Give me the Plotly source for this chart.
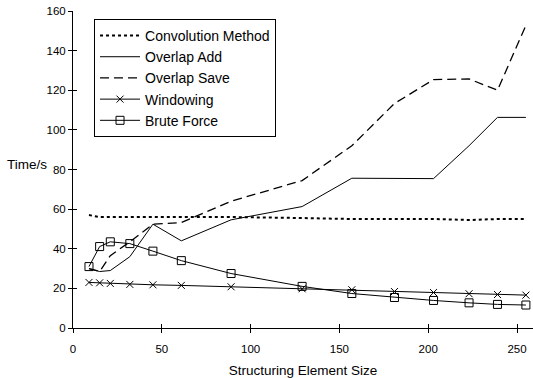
import plotly.graph_objects as go

sizes = [9, 15, 21, 32, 45, 61, 89, 129, 157, 181, 203, 223, 239, 255]
convolution = [57, 56, 56, 56, 56, 56, 56, 55.5, 55, 55, 55, 54.5, 55, 55]
overlap_add = [30, 28.5, 29, 36, 52.4, 44, 54.6, 61.3, 75.6, 75.4, 75.4, 92, 106.3, 106.3]
overlap_save = [30, 28.5, 36.5, 43.5, 52.4, 53.2, 64, 74.4, 92, 113.3, 125.4, 125.7, 120, 152.8]
windowing = [23, 22.8, 22.5, 22, 21.8, 21.5, 20.8, 19.8, 19.3, 18.4, 17.9, 17.3, 16.9, 16.6]
brute_force = [31, 41.1, 43.5, 42.6, 38.8, 34, 27.5, 21, 17.4, 15.4, 13.9, 12.7, 11.9, 11.6]

x_ticks = [0, 50, 100, 150, 200, 250]
y_ticks = [0, 20, 40, 60, 80, 100, 120, 140, 160]

FONT = "Liberation Sans, Arial, sans-serif"

fig = go.Figure()
fig.add_trace(go.Scatter(x=sizes, y=convolution, name="Convolution Method", mode="lines",
                         line=dict(color="black", width=2, dash="dot")))
fig.add_trace(go.Scatter(x=sizes, y=overlap_add, name="Overlap Add", mode="lines",
                         line=dict(color="black", width=1)))
fig.add_trace(go.Scatter(x=sizes, y=overlap_save, name="Overlap Save", mode="lines",
                         line=dict(color="black", width=1.3, dash="9px,5px")))
fig.add_trace(go.Scatter(x=sizes, y=windowing, name="Windowing", mode="lines+markers",
                         line=dict(color="black", width=1),
                         marker=dict(symbol="x-thin-open", size=7, color="black",
                                     line=dict(color="black", width=1))))
fig.add_trace(go.Scatter(x=sizes, y=brute_force, name="Brute Force", mode="lines+markers",
                         line=dict(color="black", width=1),
                         marker=dict(symbol="square-open", size=8, color="black",
                                     line=dict(color="black", width=1))))

# invisible trace to carry the overlay axes (inside ticks -> crossing ticks)
fig.add_trace(go.Scatter(x=[0], y=[0], xaxis="x2", yaxis="y2", mode="markers",
                         marker=dict(opacity=0), showlegend=False, hoverinfo="skip"))

axis_common = dict(showgrid=False, zeroline=False, showline=True, linecolor="black",
                   linewidth=1, tickcolor="black", tickwidth=1, ticklen=4)

fig.update_layout(
    width=533, height=378,
    margin=dict(l=73, r=0, t=11, b=50),
    paper_bgcolor="white", plot_bgcolor="white",
    font=dict(family=FONT, color="black", size=11),
    xaxis=dict(range=[0, 259], tickvals=x_ticks, ticks="outside",
               tickfont=dict(size=11.5), ticklabelstandoff=6,
               title=dict(text="Structuring Element Size", font=dict(size=13.5), standoff=14),
               **axis_common),
    yaxis=dict(range=[0, 160], tickvals=y_ticks, ticks="outside",
               tickfont=dict(size=11.5), **axis_common),
    xaxis2=dict(overlaying="x", range=[0, 259], tickvals=x_ticks, ticks="inside",
                showticklabels=False, anchor="y", side="bottom", **axis_common),
    yaxis2=dict(overlaying="y", range=[0, 160], tickvals=y_ticks, ticks="inside",
                showticklabels=False, anchor="x", side="left", **axis_common),
    legend=dict(x=0.0457, y=0.975, xanchor="left", yanchor="top",
                bordercolor="black", borderwidth=1, bgcolor="white",
                font=dict(size=14, family=FONT), itemwidth=40,
                tracegroupgap=0),
    showlegend=True,
    annotations=[dict(text="Time/s", x=-0.052, y=(328.3 - 165) / 317.3,
                      xref="paper", yref="paper", xanchor="right", yanchor="middle",
                      showarrow=False, font=dict(size=13.5))],
)

fig.write_html("out.html")
